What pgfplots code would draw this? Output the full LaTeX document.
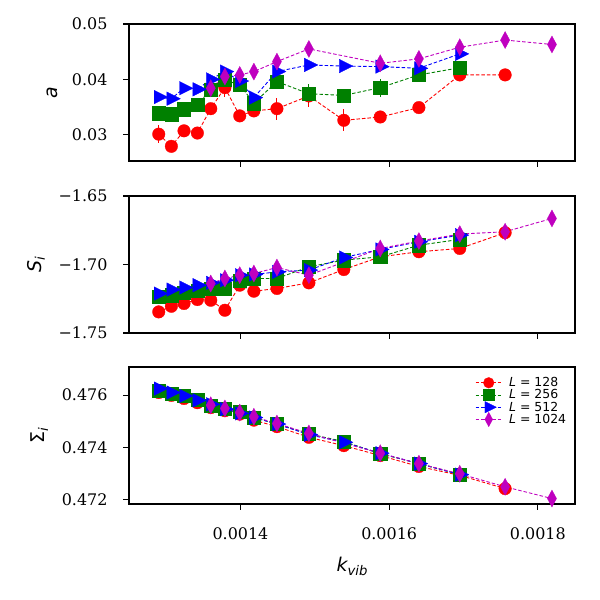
\documentclass[border=0pt]{standalone}
\usepackage{pgfplots}
\pgfplotsset{compat=1.18}
\usepackage{fontspec}
\newfontfamily\dvsans{DejaVu Sans}
\newfontfamily\dvserif{DejaVu Serif}
\definecolor{cR}{rgb}{1,0,0}
\definecolor{cG}{rgb}{0,0.5,0}
\definecolor{cB}{rgb}{0,0,1}
\definecolor{cM}{rgb}{0.75,0,0.75}
\newcommand\sub[1]{\raisebox{-3.5bp}{\fontsize{13.3}{14}\selectfont\itshape #1}}
\pgfplotsset{
  panel/.style={
    scale only axis, width=446bp, height=137bp,
    xmin=0.00125, xmax=0.00185,
    axis line style={line width=1.6bp},
    tick align=outside, tick pos=left,
    major tick length=6bp,
    every tick/.style={black, line width=1.2bp},
    xtick={0.0014,0.0016,0.0018},
    scaled x ticks=false, scaled y ticks=false,
    ticklabel style={font=\dvserif\fontsize{16}{18}\selectfont},
    xticklabel style={yshift=-14bp},
    yticklabel style={xshift=-12bp},
    label style={font=\dvsans\fontsize{19}{22}\selectfont},
    ylabel shift=7bp,
    xlabel shift=11bp,
  },
  sR/.style={color=cR, line width=0.9bp, dash pattern=on 3.5bp off 2bp, mark=*, mark size=6.3bp, mark options={solid, fill=cR, draw=cR, line width=0.3bp}},
  sG/.style={color=cG, line width=0.9bp, dash pattern=on 3.5bp off 2bp, mark=square*, mark size=6.6bp, mark options={solid, fill=cG, draw=cG, line width=0.3bp}},
  sB/.style={color=cB, line width=0.9bp, dash pattern=on 3.5bp off 2bp, mark=triangle*, mark size=9bp, mark options={solid, rotate=-90, xscale=0.866, fill=cB, draw=cB, line width=0.3bp}},
  sM/.style={color=cM, line width=0.9bp, dash pattern=on 3.5bp off 2bp, mark=diamond*, mark size=8.5bp, mark options={solid, xscale=0.72, fill=cM, draw=cM, line width=0.3bp}},
  eb/.style={error bars/.cd, y dir=both, y explicit, error mark=none, error bar style={solid, line width=1bp}},
}
\begin{document}
\begin{tikzpicture}
\useasboundingbox (0,0) rectangle (600bp,600bp);
% ---------- panel 1 : a ----------
\begin{axis}[panel, at={(129bp,576bp)}, anchor=north west,
  ymin=0.02525, ymax=0.05,
  ytick={0.03,0.04,0.05}, yticklabels={0.03,0.04,0.05},
  xticklabels={,,},
  ylabel={\itshape a}]
\addplot[sR, eb] coordinates {
(0.001290,0.0301) +- (0,0.0016)
(0.001307,0.0279) +- (0,0.0008)
(0.001324,0.0307) +- (0,0.0008)
(0.001342,0.0303) +- (0,0.0008)
(0.001360,0.0347) +- (0,0.0010)
(0.001379,0.0385) +- (0,0.0017)
(0.001399,0.0334) +- (0,0.0008)
(0.001418,0.0343) +- (0,0.0010)
(0.001449,0.0347) +- (0,0.0020)
(0.001492,0.0370) +- (0,0.0020)
(0.001539,0.0326) +- (0,0.0020)
(0.001588,0.0332) +- (0,0.0010)
(0.001640,0.0349) +- (0,0.0008)
(0.001695,0.0408) +- (0,0.0008)
(0.001756,0.0408) +- (0,0.0008)
};
\addplot[sG, eb] coordinates {
(0.001290,0.0339) +- (0,0.0006)
(0.001307,0.0337) +- (0,0.0006)
(0.001324,0.0346) +- (0,0.0006)
(0.001342,0.0355) +- (0,0.0006)
(0.001360,0.0381) +- (0,0.0006)
(0.001379,0.0399) +- (0,0.0006)
(0.001399,0.0390) +- (0,0.0006)
(0.001418,0.0357) +- (0,0.0006)
(0.001449,0.0396) +- (0,0.0012)
(0.001492,0.0374) +- (0,0.0017)
(0.001539,0.0371) +- (0,0.0006)
(0.001588,0.0385) +- (0,0.0016)
(0.001640,0.0408) +- (0,0.0006)
(0.001695,0.0421) +- (0,0.0006)
};
\addplot[sB, eb] coordinates {
(0.001290,0.0368) +- (0,0.0004)
(0.001307,0.0365) +- (0,0.0004)
(0.001324,0.0384) +- (0,0.0004)
(0.001342,0.0382) +- (0,0.0004)
(0.001360,0.0400) +- (0,0.0004)
(0.001379,0.0414) +- (0,0.0004)
(0.001399,0.0397) +- (0,0.0004)
(0.001418,0.0367) +- (0,0.0004)
(0.001449,0.0414) +- (0,0.0004)
(0.001492,0.0426) +- (0,0.0004)
(0.001539,0.0424) +- (0,0.0004)
(0.001588,0.0423) +- (0,0.0004)
(0.001640,0.0420) +- (0,0.0004)
(0.001695,0.0446) +- (0,0.0004)
};
\addplot[sM, eb] coordinates {
(0.001360,0.0384) +- (0,0.0005)
(0.001379,0.0405) +- (0,0.0005)
(0.001399,0.0408) +- (0,0.0005)
(0.001418,0.0414) +- (0,0.0005)
(0.001449,0.0432) +- (0,0.0005)
(0.001492,0.0455) +- (0,0.0005)
(0.001588,0.0429) +- (0,0.0005)
(0.001640,0.0437) +- (0,0.0005)
(0.001695,0.0458) +- (0,0.0005)
(0.001756,0.0471) +- (0,0.0005)
(0.001819,0.0463) +- (0,0.0005)
};
\end{axis}
% ---------- panel 2 : S_i ----------
\begin{axis}[panel, at={(129bp,404bp)}, anchor=north west,
  ymin=-1.75, ymax=-1.65,
  ytick={-1.75,-1.70,-1.65}, yticklabels={−1.75,−1.70,−1.65},
  xticklabels={,,},
  ylabel={\itshape S\sub{i}}]
\addplot[sR] coordinates {
(0.001290,-1.7346) (0.001307,-1.7305) (0.001324,-1.7285) (0.001342,-1.7256)
(0.001360,-1.7261) (0.001379,-1.7334) (0.001399,-1.7151) (0.001418,-1.7195)
(0.001449,-1.7175) (0.001492,-1.7134) (0.001539,-1.7037) (0.001588,-1.6944)
(0.001640,-1.6907) (0.001695,-1.6883) (0.001756,-1.6768)
};
\addplot[sG] coordinates {
(0.001290,-1.7236) (0.001307,-1.7224) (0.001324,-1.7207) (0.001342,-1.7188)
(0.001360,-1.7175) (0.001379,-1.7175) (0.001399,-1.7115) (0.001418,-1.7102)
(0.001449,-1.7102) (0.001492,-1.7017) (0.001539,-1.6968) (0.001588,-1.6944)
(0.001640,-1.6859) (0.001695,-1.6817)
};
\addplot[sB] coordinates {
(0.001290,-1.7212) (0.001307,-1.7183) (0.001324,-1.7168) (0.001342,-1.7151)
(0.001360,-1.7134) (0.001379,-1.7115) (0.001399,-1.7078) (0.001418,-1.7073)
(0.001449,-1.7054) (0.001492,-1.7041) (0.001539,-1.6949) (0.001588,-1.6890)
(0.001640,-1.6834) (0.001695,-1.6786)
};
\addplot[sM] coordinates {
(0.001360,-1.7139) (0.001379,-1.7102) (0.001399,-1.7078) (0.001418,-1.7066)
(0.001449,-1.7022) (0.001492,-1.7078) (0.001588,-1.6883) (0.001640,-1.6829)
(0.001695,-1.6778) (0.001756,-1.6761) (0.001819,-1.6664)
};
\end{axis}
% ---------- panel 3 : Sigma_i ----------
\begin{axis}[panel, at={(129bp,233bp)}, anchor=north west,
  ymin=0.47182, ymax=0.47708,
  ytick={0.472,0.474,0.476}, yticklabels={0.472,0.474,0.476},
  xticklabels={0.0014,0.0016,0.0018},
  ylabel={Σ\sub{i}},
  xlabel={\itshape k\sub{vib}},
  legend style={draw=none, fill=none, at={(axis description cs:0.776,0.94)}, anchor=north west,
    font=\dvsans\fontsize{12.5}{12.5}\selectfont, row sep=-2.5bp, inner sep=0pt},
  legend cell align=left,
  legend image code/.code={\draw[mark repeat=2, mark phase=2, #1] plot coordinates {(0bp,0bp) (13bp,0bp) (26bp,0bp)};},
  legend image post style={every mark/.append style={scale=0.85}},
  ]
\addplot[sR] coordinates {
(0.001290,0.47610) (0.001307,0.47599) (0.001324,0.47587) (0.001342,0.47571)
(0.001360,0.47552) (0.001379,0.47540) (0.001399,0.47527) (0.001418,0.47504)
(0.001449,0.47479) (0.001492,0.47438) (0.001539,0.47406) (0.001588,0.47368)
(0.001640,0.47326) (0.001695,0.47292) (0.001756,0.47241)
};
\addlegendentry{\hspace{5bp}\textit{L} = 128}
\addplot[sG] coordinates {
(0.001290,0.47618) (0.001307,0.47607) (0.001324,0.47597) (0.001342,0.47582)
(0.001360,0.47561) (0.001379,0.47549) (0.001399,0.47536) (0.001418,0.47514)
(0.001449,0.47489) (0.001492,0.47451) (0.001539,0.47422) (0.001588,0.47375)
(0.001640,0.47337) (0.001695,0.47295)
};
\addlegendentry{\hspace{5bp}\textit{L} = 256}
\addplot[sB] coordinates {
(0.001290,0.47625) (0.001307,0.47610) (0.001324,0.47597) (0.001342,0.47580)
(0.001360,0.47565) (0.001379,0.47546) (0.001399,0.47530) (0.001418,0.47514)
(0.001449,0.47489) (0.001492,0.47448) (0.001539,0.47419) (0.001588,0.47377)
(0.001640,0.47337) (0.001695,0.47295)
};
\addlegendentry{\hspace{5bp}\textit{L} = 512}
\addplot[sM] coordinates {
(0.001360,0.47561) (0.001379,0.47549) (0.001399,0.47533) (0.001418,0.47517)
(0.001449,0.47491) (0.001492,0.47453) (0.001588,0.47377) (0.001640,0.47337)
(0.001695,0.47298) (0.001756,0.47248) (0.001819,0.47203)
};
\addlegendentry{\hspace{5bp}\textit{L} = 1024}
\end{axis}
\end{tikzpicture}
\end{document}
